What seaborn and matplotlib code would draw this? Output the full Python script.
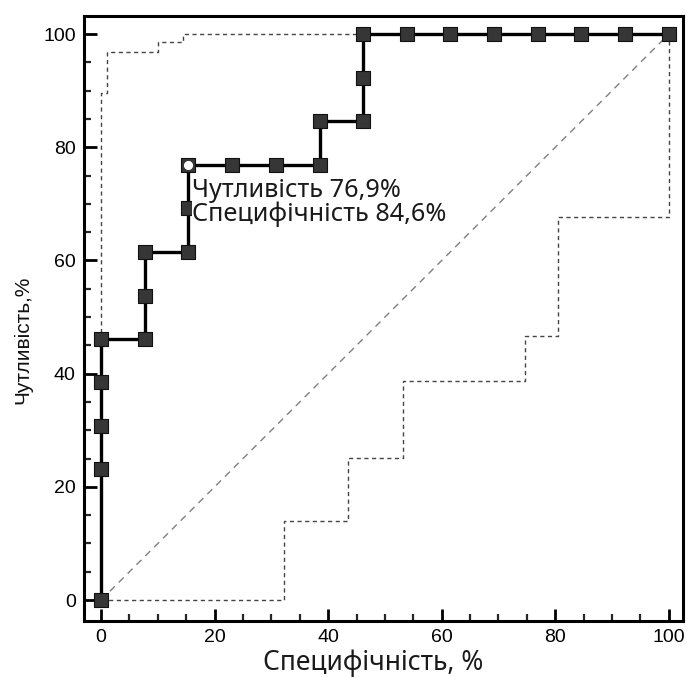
import numpy as np
import pandas as pd
import matplotlib
matplotlib.use("Agg")
import matplotlib.pyplot as plt
import seaborn as sns
from matplotlib.ticker import MultipleLocator

# ROC curve points (100 - specificity, sensitivity), %
roc_x = [0, 0, 0, 0, 0, 7.7, 7.7, 7.7, 15.4, 15.4, 15.4, 23.1, 30.8, 38.5, 38.5,
         46.2, 46.2, 46.2, 53.8, 61.5, 69.2, 76.9, 84.6, 92.3, 100]
roc_y = [0, 23.1, 30.8, 38.5, 46.2, 46.2, 53.8, 61.5, 61.5, 69.2, 76.9, 76.9, 76.9, 76.9, 84.6,
         84.6, 92.3, 100, 100, 100, 100, 100, 100, 100, 100]

# optimal cut-off point
cut_x = [15.4]
cut_y = [76.9]

# confidence bounds (step lines)
upper_x = [0, 0, 0.2, 1.0, 1.0, 10.0, 10.0, 14.4, 14.4, 100]
upper_y = [0, 89.6, 89.6, 89.6, 96.8, 96.8, 98.6, 98.6, 100, 100]
lower_x = [0, 32.2, 32.2, 43.5, 43.5, 53.2, 53.2, 74.6, 74.6, 80.5, 80.5, 100, 100]
lower_y = [0, 0, 14.0, 14.0, 25.1, 25.1, 38.7, 38.7, 46.6, 46.6, 67.6, 67.6, 100]

# reference diagonal
diag_x = [0, 100]
diag_y = [0, 100]

x_ticks = [0, 20, 40, 60, 80, 100]
y_ticks = [0, 20, 40, 60, 80, 100]

annot_lines = ["Чутливість 76,9%", "Специфічність 84,6%"]
x_label = "Специфічність, %"
y_label = "Чутливість,%"

sns.set_style("white")
plt.rcParams['font.family'] = ['Liberation Sans', 'DejaVu Sans']

fig = plt.figure(figsize=(6.87, 6.77), dpi=100)
ax = fig.add_axes([0.1223, 0.0827, 0.8719, 0.8937])

roc = pd.DataFrame({"x": roc_x, "y": roc_y})
up = pd.DataFrame({"x": upper_x, "y": upper_y})
lo = pd.DataFrame({"x": lower_x, "y": lower_y})
dg = pd.DataFrame({"x": diag_x, "y": diag_y})

common = dict(sort=False, estimator=None, errorbar=None, ax=ax)
sns.lineplot(data=dg, x="x", y="y", color="#808080", linewidth=1.0,
             linestyle=(0, (5, 4)), zorder=1, **common)
sns.lineplot(data=up, x="x", y="y", color="#444444", linewidth=1.0,
             linestyle=(0, (3, 2.5)), zorder=1, **common)
sns.lineplot(data=lo, x="x", y="y", color="#444444", linewidth=1.0,
             linestyle=(0, (3, 2.5)), zorder=1, **common)
sns.lineplot(data=roc, x="x", y="y", color="black", linewidth=2.4, zorder=3, **common)
sns.scatterplot(data=roc, x="x", y="y", ax=ax, marker="s", s=100,
                color="#363636", edgecolor="#111111", linewidth=0.8, zorder=4)
sns.scatterplot(x=cut_x, y=cut_y, ax=ax, marker="o", s=55, color="white",
                edgecolor="#333333", linewidth=0.8, zorder=5)

ax.text(16.1, 74.6, "\n".join(annot_lines), fontsize=18.2, family=['Noto Sans', 'DejaVu Sans'],
        ha="left", va="top", linespacing=0.95, color="#1a1a1a", zorder=6,
        bbox=dict(facecolor="white", edgecolor="none", pad=0.5))

ax.set_xlim(-3.0, 102.5)
ax.set_ylim(-3.7, 103.2)
ax.set_xticks(x_ticks)
ax.set_yticks(y_ticks)
ax.xaxis.set_minor_locator(MultipleLocator(5))
ax.yaxis.set_minor_locator(MultipleLocator(5))
ax.tick_params(axis="both", which="major", direction="in", length=9, width=2.0,
               labelsize=14, colors="black", pad=6)
ax.tick_params(axis="both", which="minor", direction="in", length=5, width=1.6)
ax.tick_params(top=False, right=False, bottom=True, left=True)
ax.tick_params(which="minor", top=False, right=False, bottom=True, left=True)

for sp in ax.spines.values():
    sp.set_linewidth(2.2)
    sp.set_color("black")

ax.set_xlabel(x_label, fontsize=19, family=['Noto Sans', 'DejaVu Sans'], labelpad=2, color="#1a1a1a")
ax.set_ylabel(y_label, fontsize=15, labelpad=8, color="#111111")
ax.xaxis.label.set_x(0.483)
ax.yaxis.label.set_y(0.465)

fig.savefig("out.png", dpi=100, facecolor="white")
